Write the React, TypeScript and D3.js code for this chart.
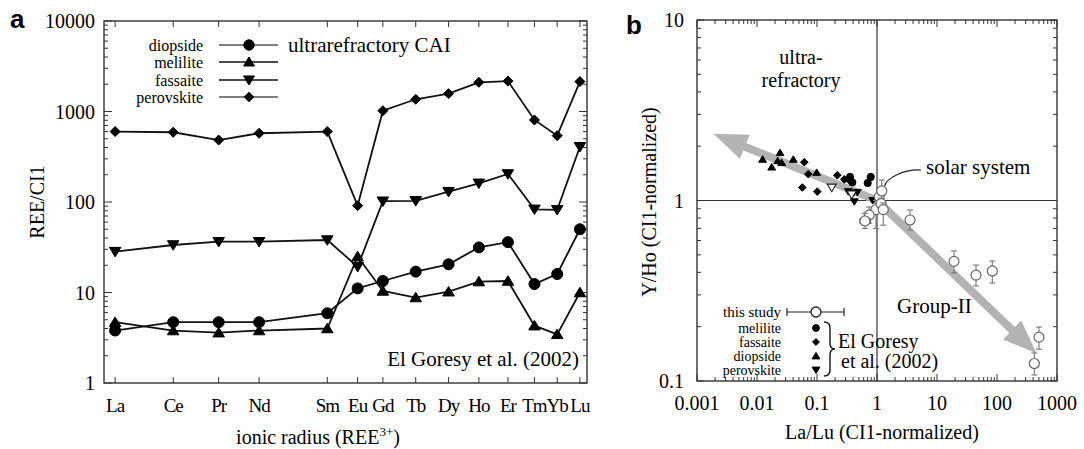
import React from "react";
import * as d3 from "d3";

// ---------- Panel a data ----------
const elements = ["La", "Ce", "Pr", "Nd", "Sm", "Eu", "Gd", "Tb", "Dy", "Ho", "Er", "Tm", "Yb", "Lu"];
const ionicRadius = [1.216, 1.193, 1.175, 1.159, 1.132, 1.12, 1.11, 1.097, 1.084, 1.072, 1.0605, 1.05, 1.041, 1.032];
const diopsideREE = [3.8, 4.7, 4.7, 4.7, 5.9, 11.1, 13.4, 17, 20.5, 31.5, 36, 12.4, 16, 50];
const meliliteREE = [4.7, 3.8, 3.6, 3.8, 4.0, 25, 10.4, 8.8, 10.2, 13.2, 13.4, 4.3, 3.45, 10];
const fassaiteREE = [28.3, 33.5, 36.4, 36.4, 38, 19.3, 102, 103, 130, 161, 204, 83, 82, 408];
const perovskiteREE = [600, 590, 484, 575, 600, 91, 1020, 1365, 1574, 2100, 2170, 806, 541, 2140];
const yTicksA = [1, 10, 100, 1000, 10000];

// ---------- Panel b data ----------
const melX = [0.785, 0.7, 0.388, 0.355];
const melY = [1.35, 1.25, 1.26, 1.35];
const fasX = [0.0614, 0.0716, 0.0569, 0.101, 0.218, 0.285, 0.341];
const fasY = [1.63, 1.4, 1.18, 1.12, 1.38, 1.31, 1.3];
const dioX = [0.0124, 0.0242, 0.0221, 0.0258, 0.0176, 0.0403, 0.0989];
const dioY = [1.69, 1.84, 1.66, 1.62, 1.53, 1.69, 1.43];
const perX = [0.333, 0.403, 0.47, 0.419, 0.848];
const perY = [1.12, 1.1, 1.11, 0.985, 1.0];
const perOpenX = [0.176, 0.378];
const perOpenY = [1.18, 1.08];

const studyX = [1.09, 1.2, 0.96, 1.17, 1.27, 0.74, 0.63, 3.55, 19.2, 44.7, 83.5, 501, 419];
const studyY = [1.05, 1.13, 0.89, 0.96, 0.89, 0.83, 0.77, 0.78, 0.46, 0.386, 0.407, 0.175, 0.125];
const studyYLo = [0.97, 0.98, 0.7, 0.9, 0.73, 0.75, 0.7, 0.686, 0.397, 0.336, 0.349, 0.15, 0.108];
const studyYHi = [1.13, 1.3, 1.0, 1.03, 0.97, 0.92, 0.85, 0.886, 0.525, 0.439, 0.462, 0.199, 0.143];
const studyXLo = [1.09, 1.2, 0.96, 1.17, 1.27, 0.74, 0.52, 3.55, 19.2, 44.7, 83.5, 501, 419];
const studyXHi = [1.09, 1.2, 0.96, 1.17, 1.27, 0.74, 0.78, 3.55, 19.2, 44.7, 83.5, 501, 419];

const arrowOrigin = [1, 1];
const arrowTipUL = [0.00187, 2.34];
const arrowTipLR = [459, 0.142];
const xTicksB = [0.001, 0.01, 0.1, 1, 10, 100, 1000];
const yTicksB = [0.1, 1, 10];

const SERIF = "'Liberation Serif', 'Times New Roman', serif";
const SANS = "'Liberation Sans', Arial, sans-serif";

function Marker({ type, x, y, s, fill = "#000", stroke = "#000", sw = 1 }: any) {
  if (type === "circle") return <circle cx={x} cy={y} r={s} fill={fill} stroke={stroke} strokeWidth={sw} />;
  if (type === "up")
    return (
      <polygon
        points={`${x},${y - s * 1.05} ${x + s * 1.15},${y + s * 0.85} ${x - s * 1.15},${y + s * 0.85}`}
        fill={fill}
        stroke={stroke}
        strokeWidth={sw}
      />
    );
  if (type === "down")
    return (
      <polygon
        points={`${x},${y + s * 1.05} ${x + s * 1.15},${y - s * 0.85} ${x - s * 1.15},${y - s * 0.85}`}
        fill={fill}
        stroke={stroke}
        strokeWidth={sw}
      />
    );
  return (
    <polygon
      points={`${x},${y - s} ${x + s},${y} ${x},${y + s} ${x - s},${y}`}
      fill={fill}
      stroke={stroke}
      strokeWidth={sw}
    />
  );
}

function logTicks(lo: number, hi: number) {
  const major: number[] = [];
  const minor: number[] = [];
  for (let e = Math.round(Math.log10(lo)); e <= Math.round(Math.log10(hi)); e++) {
    const b = Math.pow(10, e);
    major.push(b);
    if (b < hi) for (let m = 2; m <= 9; m++) minor.push(m * b);
  }
  return { major, minor };
}

function arrowPath(x1: number, y1: number, x2: number, y2: number, shaft: number, headL: number, headW: number) {
  const dx = x2 - x1, dy = y2 - y1;
  const L = Math.hypot(dx, dy);
  const ux = dx / L, uy = dy / L;
  const nx = -uy, ny = ux;
  const bx = x2 - ux * headL, by = y2 - uy * headL;
  const p = [
    [x1 + nx * shaft / 2, y1 + ny * shaft / 2],
    [bx + nx * shaft / 2, by + ny * shaft / 2],
    [bx + nx * headW / 2, by + ny * headW / 2],
    [x2, y2],
    [bx - nx * headW / 2, by - ny * headW / 2],
    [bx - nx * shaft / 2, by - ny * shaft / 2],
    [x1 - nx * shaft / 2, y1 - ny * shaft / 2],
  ];
  return "M" + p.map((q) => q.join(",")).join("L") + "Z";
}

export default function App() {
  // Panel a
  const xA = d3.scaleLinear().domain([1.2204, 1.0292]).range([104, 587]);
  const yA = d3.scaleLog().domain([1, 10000]).range([383, 21]);
  const seriesA = [
    { name: "diopside", values: diopsideREE, type: "circle", s: 5.5 },
    { name: "melilite", values: meliliteREE, type: "up", s: 5 },
    { name: "fassaite", values: fassaiteREE, type: "down", s: 5 },
    { name: "perovskite", values: perovskiteREE, type: "diamond", s: 5 },
  ];
  const lineA = d3
    .line<number>()
    .x((_, i) => xA(ionicRadius[i]))
    .y((v) => yA(v));
  const ta = logTicks(1, 10000);

  // Panel b
  const xB = d3.scaleLog().domain([0.001, 1000]).range([697, 1057]);
  const yB = d3.scaleLog().domain([0.1, 10]).range([381, 20]);
  const txb = logTicks(0.001, 1000);
  const tyb = logTicks(0.1, 10);
  const [ax0, ay0] = [xB(arrowOrigin[0]), yB(arrowOrigin[1])];
  const refSets = [
    { xs: melX, ys: melY, type: "circle", s: 3.6 },
    { xs: fasX, ys: fasY, type: "diamond", s: 3.8 },
    { xs: dioX, ys: dioY, type: "up", s: 3.4 },
    { xs: perX, ys: perY, type: "down", s: 3.4 },
  ];
  const frame = "#333";
  const solarX = xB(studyX[1]);
  const solarY = yB(studyY[1]);

  return (
    <svg width={1084} height={449} style={{ position: "absolute", left: 0, top: 0, background: "#fff" }}>
      <rect x={0} y={0} width={1084} height={449} fill="#fff" />
      {/* ================= Panel a ================= */}
      <text x={10} y={28} fontFamily={SANS} fontWeight="bold" fontSize={26}>a</text>
      {ta.major.map((v) => (
        <g key={"ma" + v} stroke={frame} strokeWidth={1}>
          <line x1={104} x2={112} y1={yA(v)} y2={yA(v)} />
          <line x1={587} x2={579} y1={yA(v)} y2={yA(v)} />
        </g>
      ))}
      {ta.minor.map((v) => (
        <g key={"mi" + v} stroke={frame} strokeWidth={1}>
          <line x1={104} x2={108} y1={yA(v)} y2={yA(v)} />
          <line x1={587} x2={583} y1={yA(v)} y2={yA(v)} />
        </g>
      ))}
      {ionicRadius.map((r, i) => (
        <g key={"xt" + i} stroke={frame} strokeWidth={1}>
          <line x1={xA(r)} x2={xA(r)} y1={21} y2={27} />
          <line x1={xA(r)} x2={xA(r)} y1={383} y2={377} />
        </g>
      ))}
      <rect x={104} y={21} width={483} height={362} fill="none" stroke={frame} strokeWidth={1.4} />
      {yTicksA.map((v) => (
        <text key={"yl" + v} x={95} y={yA(v)} dy="0.35em" textAnchor="end" fontFamily={SERIF} fontSize={20}>
          {v}
        </text>
      ))}
      {elements.map((e, i) => (
        <text
          key={"el" + e}
          x={xA(ionicRadius[i])}
          y={412}
          textAnchor="middle"
          fontFamily={SERIF}
          fontSize={19}
          letterSpacing={-1}
        >
          {e}
        </text>
      ))}
      <text x={318} y={444} textAnchor="middle" fontFamily={SERIF} fontSize={20}>
        ionic radius (REE<tspan dy={-8} fontSize={13}>3+</tspan>
        <tspan dy={8}>)</tspan>
      </text>
      <text transform="translate(44,202) rotate(-90)" textAnchor="middle" fontFamily={SERIF} fontSize={20}>
        REE/CI1
      </text>
      {seriesA.map((s) => (
        <g key={s.name}>
          <path d={lineA(s.values) || ""} fill="none" stroke="#111" strokeWidth={1.8} />
          {s.values.map((v, i) => (
            <Marker key={i} type={s.type} x={xA(ionicRadius[i])} y={yA(v)} s={s.s} />
          ))}
        </g>
      ))}
      {seriesA.map((s, i) => {
        const y = [45, 62, 80, 97][i];
        return (
          <g key={"lg" + s.name}>
            <text x={203} y={y} dy="0.35em" textAnchor="end" fontFamily={SERIF} fontSize={16}>
              {s.name}
            </text>
            <line x1={219} x2={278} y1={y} y2={y} stroke={i === 0 || i === 3 ? "#555" : "#111"} strokeWidth={1.5} />
            <Marker type={s.type} x={249} y={y} s={s.s * 0.95} />
          </g>
        );
      })}
      <text x={288} y={45} dy="0.35em" fontFamily={SERIF} fontSize={21}>ultrarefractory CAI</text>
      <text x={579} y={366} textAnchor="end" fontFamily={SERIF} fontSize={21}>El Goresy et al. (2002)</text>

      {/* ================= Panel b ================= */}
      <text x={626} y={34} fontFamily={SANS} fontWeight="bold" fontSize={26}>b</text>
      {txb.major.map((v) => (
        <g key={"bxm" + v} stroke={frame} strokeWidth={1}>
          <line x1={xB(v)} x2={xB(v)} y1={20} y2={27} />
          <line x1={xB(v)} x2={xB(v)} y1={381} y2={374} />
        </g>
      ))}
      {txb.minor.map((v) => (
        <g key={"bxn" + v} stroke={frame} strokeWidth={1}>
          <line x1={xB(v)} x2={xB(v)} y1={20} y2={24} />
          <line x1={xB(v)} x2={xB(v)} y1={381} y2={377} />
        </g>
      ))}
      {tyb.major.map((v) => (
        <g key={"bym" + v} stroke={frame} strokeWidth={1}>
          <line x1={697} x2={704} y1={yB(v)} y2={yB(v)} />
          <line x1={1057} x2={1050} y1={yB(v)} y2={yB(v)} />
        </g>
      ))}
      {tyb.minor.map((v) => (
        <g key={"byn" + v} stroke={frame} strokeWidth={1}>
          <line x1={697} x2={701} y1={yB(v)} y2={yB(v)} />
          <line x1={1057} x2={1053} y1={yB(v)} y2={yB(v)} />
        </g>
      ))}
      <rect x={697} y={20} width={360} height={361} fill="none" stroke={frame} strokeWidth={1.4} />
      <line x1={xB(1)} x2={xB(1)} y1={20} y2={381} stroke={frame} strokeWidth={1.2} />
      <line x1={697} x2={1057} y1={yB(1)} y2={yB(1)} stroke={frame} strokeWidth={1.2} />
      {xTicksB.map((v) => (
        <text key={"bxl" + v} x={xB(v)} y={410} textAnchor="middle" fontFamily={SERIF} fontSize={20}>
          {v}
        </text>
      ))}
      {yTicksB.map((v) => (
        <text key={"byl" + v} x={684} y={yB(v)} dy="0.35em" textAnchor="end" fontFamily={SERIF} fontSize={20}>
          {v}
        </text>
      ))}
      <text x={882} y={439} textAnchor="middle" fontFamily={SERIF} fontSize={20}>La/Lu (CI1-normalized)</text>
      <text transform="translate(656,202) rotate(-90)" textAnchor="middle" fontFamily={SERIF} fontSize={20}>
        Y/Ho (CI1-normalized)
      </text>
      <text x={801} y={64} textAnchor="middle" fontFamily={SERIF} fontSize={20}>ultra-</text>
      <text x={801} y={87} textAnchor="middle" fontFamily={SERIF} fontSize={20}>refractory</text>
      <text x={897} y={313} fontFamily={SERIF} fontSize={21}>Group-II</text>
      <text x={926} y={174} fontFamily={SERIF} fontSize={21}>solar system</text>
      <path
        d={`M${921},${170} C${903},${169} ${solarX + 4},${solarY - 12} ${solarX + 3},${solarY - 5}`}
        fill="none"
        stroke="#222"
        strokeWidth={1.2}
      />
      <path d={arrowPath(ax0, ay0, xB(arrowTipUL[0]), yB(arrowTipUL[1]), 8, 34, 26)} fill="#b3b3b3" />
      <path d={arrowPath(ax0, ay0, xB(arrowTipLR[0]), yB(arrowTipLR[1]), 8, 34, 26)} fill="#b3b3b3" />
      {refSets.map((set, k) =>
        set.xs.map((x, i) => (
          <Marker key={k + "-" + i} type={set.type} x={xB(x)} y={yB(set.ys[i])} s={set.s} />
        ))
      )}
      {perOpenX.map((x, i) => (
        <Marker key={"po" + i} type="down" x={xB(x)} y={yB(perOpenY[i])} s={4} fill="#fff" stroke="#222" sw={1.1} />
      ))}
      {studyX.map((x, i) => {
        const cx = xB(x), cy = yB(studyY[i]);
        const y1 = yB(studyYHi[i]), y2 = yB(studyYLo[i]);
        const x1 = xB(studyXLo[i]), x2 = xB(studyXHi[i]);
        return (
          <g key={"st" + i} stroke="#777" strokeWidth={1.1}>
            <line x1={cx} x2={cx} y1={y1} y2={y2} />
            <line x1={cx - 3} x2={cx + 3} y1={y1} y2={y1} />
            <line x1={cx - 3} x2={cx + 3} y1={y2} y2={y2} />
            {x1 !== x2 && (
              <>
                <line x1={x1} x2={x2} y1={cy} y2={cy} />
                <line x1={x1} x2={x1} y1={cy - 3} y2={cy + 3} />
                <line x1={x2} x2={x2} y1={cy - 3} y2={cy + 3} />
              </>
            )}
            <circle cx={cx} cy={cy} r={5} fill="#fff" stroke="#666" strokeWidth={1.2} />
          </g>
        );
      })}
      <text x={781} y={312} dy="0.35em" textAnchor="end" fontFamily={SERIF} fontSize={15}>this study</text>
      <g stroke="#222" strokeWidth={1.2}>
        <line x1={787} x2={844} y1={312} y2={312} />
        <line x1={787} x2={787} y1={308} y2={316} />
        <line x1={844} x2={844} y1={308} y2={316} />
      </g>
      <circle cx={816} cy={312} r={5} fill="#fff" stroke="#222" strokeWidth={1.3} />
      {["melilite", "fassaite", "diopside", "perovskite"].map((n, i) => {
        const y = [328, 342, 356, 370][i];
        const t = ["circle", "diamond", "up", "down"][i];
        return (
          <g key={"lb" + n}>
            <text x={781} y={y} dy="0.35em" textAnchor="end" fontFamily={SERIF} fontSize={14}>{n}</text>
            <Marker type={t} x={816} y={y} s={3.4} />
          </g>
        );
      })}
      <path
        d="M824,322 Q830,322 830,328 L830,343 Q830,349 835,349 Q830,349 830,355 L830,370 Q830,376 824,376"
        fill="none"
        stroke="#111"
        strokeWidth={1.4}
      />
      <text x={838} y={348} fontFamily={SERIF} fontSize={20}>El Goresy</text>
      <text x={841} y={368} fontFamily={SERIF} fontSize={20}>et al. (2002)</text>
    </svg>
  );
}
